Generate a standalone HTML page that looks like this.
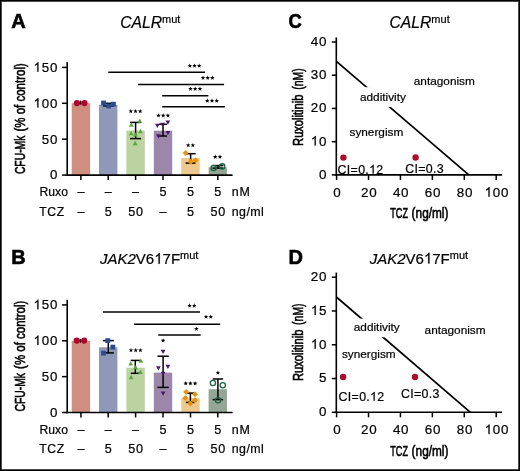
<!DOCTYPE html>
<html><head><meta charset="utf-8"><style>
html,body{margin:0;padding:0;background:#fff;}
svg{display:block;will-change:transform;}
text{font-family:"Liberation Sans", sans-serif;fill:#000;stroke:#000;stroke-width:0.2px;}
</style></head><body>
<svg width="520" height="471" viewBox="0 0 520 471">
<rect x="0.85" y="0.85" width="518.3" height="469.3" fill="#fff" stroke="#000" stroke-width="1.7"/>
<text x="11.3" y="28.0" font-size="20" text-anchor="start" font-weight="bold" font-style="normal" style="stroke-width:0.6px">A</text>
<text x="120.19" y="27.6" font-size="15.7" font-style="italic">C</text><text x="131.53" y="27.6" font-size="15.7" font-style="italic">A</text><text x="142.00" y="27.6" font-size="15.7" font-style="italic">L</text><text x="150.73" y="27.6" font-size="15.7" font-style="italic">R</text><text x="162.07" y="22.6" font-size="11">mut</text>
<text transform="translate(24.7,174.10) rotate(-90) scale(0.7187,1)" font-size="14.4" style="stroke-width:0.6px">CFU-Mk</text>
<text transform="translate(24.7,131.50) rotate(-90) scale(0.798,1)" font-size="14.4" style="stroke-width:0.6px">(% of control)</text>
<rect x="71.70" y="103.20" width="18.4" height="71.90" fill="#CE8E80"/>
<rect x="99.00" y="104.80" width="18.4" height="70.30" fill="#8F98B9"/>
<rect x="126.40" y="130.50" width="18.4" height="44.60" fill="#BBD39F"/>
<rect x="153.80" y="130.70" width="18.4" height="44.40" fill="#9C87AA"/>
<rect x="181.30" y="158.00" width="18.4" height="17.10" fill="#EEC88E"/>
<rect x="208.60" y="167.30" width="18.4" height="7.80" fill="#94A797"/>
<line x1="80.7" y1="100.8" x2="80.7" y2="104.6" stroke="#000" stroke-width="1.5"/><line x1="80.65" y1="100.8" x2="80.75" y2="100.8" stroke="#000" stroke-width="1.5"/><line x1="80.65" y1="104.6" x2="80.75" y2="104.6" stroke="#000" stroke-width="1.5"/>
<line x1="108.5" y1="103.3" x2="108.5" y2="105.9" stroke="#000" stroke-width="1.5"/><line x1="103.0" y1="103.3" x2="114.0" y2="103.3" stroke="#000" stroke-width="1.5"/><line x1="103.0" y1="105.9" x2="114.0" y2="105.9" stroke="#000" stroke-width="1.5"/>
<line x1="135.6" y1="122.4" x2="135.6" y2="138.6" stroke="#000" stroke-width="1.5"/><line x1="130.1" y1="122.4" x2="141.1" y2="122.4" stroke="#000" stroke-width="1.5"/><line x1="130.1" y1="138.6" x2="141.1" y2="138.6" stroke="#000" stroke-width="1.5"/>
<line x1="163.0" y1="124.3" x2="163.0" y2="136.0" stroke="#000" stroke-width="1.5"/><line x1="159.0" y1="124.3" x2="167.0" y2="124.3" stroke="#000" stroke-width="1.5"/><line x1="159.0" y1="136.0" x2="167.0" y2="136.0" stroke="#000" stroke-width="1.5"/>
<line x1="190.6" y1="153.7" x2="190.6" y2="163.1" stroke="#000" stroke-width="1.5"/><line x1="185.6" y1="153.7" x2="195.6" y2="153.7" stroke="#000" stroke-width="1.5"/><line x1="185.6" y1="163.1" x2="195.6" y2="163.1" stroke="#000" stroke-width="1.5"/>
<line x1="217.9" y1="165.6" x2="217.9" y2="168.1" stroke="#000" stroke-width="1.5"/><line x1="212.4" y1="165.6" x2="223.4" y2="165.6" stroke="#000" stroke-width="1.5"/><line x1="212.4" y1="168.1" x2="223.4" y2="168.1" stroke="#000" stroke-width="1.5"/>
<circle cx="77.0" cy="103.1" r="3.1" fill="#B3002D"/>
<circle cx="84.5" cy="103.1" r="3.1" fill="#B3002D"/>
<rect x="101.10" y="100.60" width="4.8" height="4.8" fill="#2B4C8C"/>
<rect x="106.20" y="103.60" width="4.8" height="4.8" fill="#2B4C8C"/>
<rect x="111.10" y="101.80" width="4.8" height="4.8" fill="#2B4C8C"/>
<polygon points="137.40,122.76 142.20,122.76 139.80,118.44" fill="#5CA642"/>
<polygon points="128.90,126.66 133.70,126.66 131.30,122.34" fill="#5CA642"/>
<polygon points="138.00,133.16 142.80,133.16 140.40,128.84" fill="#5CA642"/>
<polygon points="128.80,135.26 133.60,135.26 131.20,130.94" fill="#5CA642"/>
<polygon points="133.00,136.46 137.80,136.46 135.40,132.14" fill="#5CA642"/>
<polygon points="132.80,145.16 137.60,145.16 135.20,140.84" fill="#5CA642"/>
<polygon points="155.00,123.74 159.80,123.74 157.40,128.06" fill="#4A1A6A"/>
<polygon points="160.20,122.64 165.00,122.64 162.60,126.96" fill="#4A1A6A"/>
<polygon points="165.50,120.44 170.30,120.44 167.90,124.76" fill="#4A1A6A"/>
<polygon points="165.50,130.94 170.30,130.94 167.90,135.26" fill="#4A1A6A"/>
<polygon points="156.00,134.24 160.80,134.24 158.40,138.56" fill="#4A1A6A"/>
<polygon points="185.60,149.90 188.60,152.90 185.60,155.90 182.60,152.90" fill="#E8920E"/>
<polygon points="190.70,158.70 193.70,161.70 190.70,164.70 187.70,161.70" fill="#E8920E"/>
<polygon points="195.60,157.30 198.60,160.30 195.60,163.30 192.60,160.30" fill="#E8920E"/>
<circle cx="213.6" cy="168" r="2.65" fill="none" stroke="#1C6342" stroke-width="1.3"/>
<circle cx="222.2" cy="166.4" r="2.65" fill="none" stroke="#1C6342" stroke-width="1.3"/>
<line x1="67.2" y1="62.300000000000004" x2="67.2" y2="175.9" stroke="#000" stroke-width="1.6"/>
<line x1="66.4" y1="175.1" x2="232.6" y2="175.1" stroke="#000" stroke-width="1.6"/>
<line x1="62" y1="175.1" x2="67.2" y2="175.1" stroke="#000" stroke-width="1.5"/>
<text x="49.90" y="179.4" font-size="13.3">0</text>
<line x1="62" y1="139.2" x2="67.2" y2="139.2" stroke="#000" stroke-width="1.5"/>
<text x="41.71" y="143.5" font-size="13.3">5</text><text x="49.90" y="143.5" font-size="13.3">0</text>
<line x1="62" y1="103.3" x2="67.2" y2="103.3" stroke="#000" stroke-width="1.5"/>
<path d="M763 0H583V1147Q518 1085 412.5 1023T223 930V1104Q373 1175 485.5 1276T645 1472H763Z" transform="translate(33.51,107.6) scale(0.00649,-0.00649)" fill="#000" stroke="#000" stroke-width="30.8"/><text x="41.71" y="107.6" font-size="13.3">0</text><text x="49.90" y="107.6" font-size="13.3">0</text>
<line x1="62" y1="67.4" x2="67.2" y2="67.4" stroke="#000" stroke-width="1.5"/>
<path d="M763 0H583V1147Q518 1085 412.5 1023T223 930V1104Q373 1175 485.5 1276T645 1472H763Z" transform="translate(33.51,71.7) scale(0.00649,-0.00649)" fill="#000" stroke="#000" stroke-width="30.8"/><text x="41.71" y="71.7" font-size="13.3">5</text><text x="49.90" y="71.7" font-size="13.3">0</text>
<line x1="80.9" y1="175.1" x2="80.9" y2="180.1" stroke="#000" stroke-width="1.5"/>
<line x1="108.2" y1="175.1" x2="108.2" y2="180.1" stroke="#000" stroke-width="1.5"/>
<line x1="135.6" y1="175.1" x2="135.6" y2="180.1" stroke="#000" stroke-width="1.5"/>
<line x1="163.0" y1="175.1" x2="163.0" y2="180.1" stroke="#000" stroke-width="1.5"/>
<line x1="190.5" y1="175.1" x2="190.5" y2="180.1" stroke="#000" stroke-width="1.5"/>
<line x1="217.8" y1="175.1" x2="217.8" y2="180.1" stroke="#000" stroke-width="1.5"/>
<line x1="108.3" y1="72.3" x2="205" y2="72.3" stroke="#000" stroke-width="1.5"/>
<line x1="138.1" y1="84.6" x2="224.1" y2="84.6" stroke="#000" stroke-width="1.5"/>
<line x1="162.2" y1="95.7" x2="208.4" y2="95.7" stroke="#000" stroke-width="1.5"/>
<line x1="162.2" y1="106.7" x2="224.9" y2="106.7" stroke="#000" stroke-width="1.5"/>
<polygon points="189.80,63.40 190.39,64.99 192.08,65.06 190.75,66.11 191.21,67.74 189.80,66.80 188.39,67.74 188.85,66.11 187.52,65.06 189.21,64.99" fill="#000"/><polygon points="194.50,63.40 195.09,64.99 196.78,65.06 195.45,66.11 195.91,67.74 194.50,66.80 193.09,67.74 193.55,66.11 192.22,65.06 193.91,64.99" fill="#000"/><polygon points="199.20,63.40 199.79,64.99 201.48,65.06 200.15,66.11 200.61,67.74 199.20,66.80 197.79,67.74 198.25,66.11 196.92,65.06 198.61,64.99" fill="#000"/>
<polygon points="203.00,75.50 203.59,77.09 205.28,77.16 203.95,78.21 204.41,79.84 203.00,78.90 201.59,79.84 202.05,78.21 200.72,77.16 202.41,77.09" fill="#000"/><polygon points="207.70,75.50 208.29,77.09 209.98,77.16 208.65,78.21 209.11,79.84 207.70,78.90 206.29,79.84 206.75,78.21 205.42,77.16 207.11,77.09" fill="#000"/><polygon points="212.40,75.50 212.99,77.09 214.68,77.16 213.35,78.21 213.81,79.84 212.40,78.90 210.99,79.84 211.45,78.21 210.12,77.16 211.81,77.09" fill="#000"/>
<polygon points="190.50,86.50 191.09,88.09 192.78,88.16 191.45,89.21 191.91,90.84 190.50,89.90 189.09,90.84 189.55,89.21 188.22,88.16 189.91,88.09" fill="#000"/><polygon points="195.20,86.50 195.79,88.09 197.48,88.16 196.15,89.21 196.61,90.84 195.20,89.90 193.79,90.84 194.25,89.21 192.92,88.16 194.61,88.09" fill="#000"/><polygon points="199.90,86.50 200.49,88.09 202.18,88.16 200.85,89.21 201.31,90.84 199.90,89.90 198.49,90.84 198.95,89.21 197.62,88.16 199.31,88.09" fill="#000"/>
<polygon points="207.30,98.30 207.89,99.89 209.58,99.96 208.25,101.01 208.71,102.64 207.30,101.70 205.89,102.64 206.35,101.01 205.02,99.96 206.71,99.89" fill="#000"/><polygon points="212.00,98.30 212.59,99.89 214.28,99.96 212.95,101.01 213.41,102.64 212.00,101.70 210.59,102.64 211.05,101.01 209.72,99.96 211.41,99.89" fill="#000"/><polygon points="216.70,98.30 217.29,99.89 218.98,99.96 217.65,101.01 218.11,102.64 216.70,101.70 215.29,102.64 215.75,101.01 214.42,99.96 216.11,99.89" fill="#000"/>
<polygon points="130.80,108.90 131.39,110.49 133.08,110.56 131.75,111.61 132.21,113.24 130.80,112.30 129.39,113.24 129.85,111.61 128.52,110.56 130.21,110.49" fill="#000"/><polygon points="135.50,108.90 136.09,110.49 137.78,110.56 136.45,111.61 136.91,113.24 135.50,112.30 134.09,113.24 134.55,111.61 133.22,110.56 134.91,110.49" fill="#000"/><polygon points="140.20,108.90 140.79,110.49 142.48,110.56 141.15,111.61 141.61,113.24 140.20,112.30 138.79,113.24 139.25,111.61 137.92,110.56 139.61,110.49" fill="#000"/>
<polygon points="158.50,113.20 159.09,114.79 160.78,114.86 159.45,115.91 159.91,117.54 158.50,116.60 157.09,117.54 157.55,115.91 156.22,114.86 157.91,114.79" fill="#000"/><polygon points="163.20,113.20 163.79,114.79 165.48,114.86 164.15,115.91 164.61,117.54 163.20,116.60 161.79,117.54 162.25,115.91 160.92,114.86 162.61,114.79" fill="#000"/><polygon points="167.90,113.20 168.49,114.79 170.18,114.86 168.85,115.91 169.31,117.54 167.90,116.60 166.49,117.54 166.95,115.91 165.62,114.86 167.31,114.79" fill="#000"/>
<polygon points="188.15,142.90 188.74,144.49 190.43,144.56 189.10,145.61 189.56,147.24 188.15,146.30 186.74,147.24 187.20,145.61 185.87,144.56 187.56,144.49" fill="#000"/><polygon points="192.85,142.90 193.44,144.49 195.13,144.56 193.80,145.61 194.26,147.24 192.85,146.30 191.44,147.24 191.90,145.61 190.57,144.56 192.26,144.49" fill="#000"/>
<polygon points="215.25,154.50 215.84,156.09 217.53,156.16 216.20,157.21 216.66,158.84 215.25,157.90 213.84,158.84 214.30,157.21 212.97,156.16 214.66,156.09" fill="#000"/><polygon points="219.95,154.50 220.54,156.09 222.23,156.16 220.90,157.21 221.36,158.84 219.95,157.90 218.54,158.84 219.00,157.21 217.67,156.16 219.36,156.09" fill="#000"/>
<text x="39.5" y="196.4" font-size="12.2" text-anchor="start" font-weight="normal" font-style="normal" >Ruxo</text>
<text x="39.3" y="215.8" font-size="12.2" text-anchor="start" font-weight="normal" font-style="normal" letter-spacing="0.6">TCZ</text>
<text x="77.40" y="196.4" font-size="12.6">–</text>
<text x="77.40" y="215.8" font-size="12.6">–</text>
<text x="104.70" y="196.4" font-size="12.6">–</text>
<text x="104.70" y="215.8" font-size="12.6">5</text>
<text x="132.10" y="196.4" font-size="12.6">–</text>
<text x="128.24" y="215.8" font-size="12.6">5</text><text x="135.95" y="215.8" font-size="12.6">0</text>
<text x="159.50" y="196.4" font-size="12.6">5</text>
<text x="159.50" y="215.8" font-size="12.6">–</text>
<text x="187.00" y="196.4" font-size="12.6">5</text>
<text x="187.00" y="215.8" font-size="12.6">5</text>
<text x="214.30" y="196.4" font-size="12.6">5</text>
<text x="210.44" y="215.8" font-size="12.6">5</text><text x="218.15" y="215.8" font-size="12.6">0</text>
<text x="231.8" y="196.4" font-size="12.4" text-anchor="start" font-weight="normal" font-style="normal" letter-spacing="0.9">nM</text>
<text x="231.8" y="215.8" font-size="12.4" text-anchor="start" font-weight="normal" font-style="normal" letter-spacing="0.4">ng/ml</text>
<text x="11.3" y="264.40292" font-size="20" text-anchor="start" font-weight="bold" font-style="normal" style="stroke-width:0.6px">B</text>
<text x="100.01" y="263.8" font-size="15" font-style="italic">J</text><text x="107.51" y="263.8" font-size="15" font-style="italic">A</text><text x="117.51" y="263.8" font-size="15" font-style="italic">K</text><text x="127.52" y="263.8" font-size="15" font-style="italic">2</text><text x="135.86" y="263.8" font-size="15">V</text><text x="145.87" y="263.8" font-size="15">6</text><path d="M763 0H583V1147Q518 1085 412.5 1023T223 930V1104Q373 1175 485.5 1276T645 1472H763Z" transform="translate(154.21,263.8) scale(0.00732,-0.00732)" fill="#000" stroke="#000" stroke-width="27.3"/><text x="162.55" y="263.8" font-size="15">7</text><text x="170.89" y="263.8" font-size="15">F</text><text x="180.05" y="258.8" font-size="11">mut</text>
<text transform="translate(24.7,411.50) rotate(-90) scale(0.7187,1)" font-size="14.4" style="stroke-width:0.6px">CFU-Mk</text>
<text transform="translate(24.7,368.90) rotate(-90) scale(0.798,1)" font-size="14.4" style="stroke-width:0.6px">(% of control)</text>
<rect x="71.70" y="340.90" width="18.4" height="71.60" fill="#CE8E80"/>
<rect x="99.00" y="347.30" width="18.4" height="65.20" fill="#8F98B9"/>
<rect x="126.40" y="367.70" width="18.4" height="44.80" fill="#BBD39F"/>
<rect x="153.80" y="372.60" width="18.4" height="39.90" fill="#9C87AA"/>
<rect x="181.30" y="397.90" width="18.4" height="14.60" fill="#EEC88E"/>
<rect x="208.60" y="389.20" width="18.4" height="23.30" fill="#94A797"/>
<line x1="80.5" y1="338.9" x2="80.5" y2="342.5" stroke="#000" stroke-width="1.5"/><line x1="80.45" y1="338.9" x2="80.55" y2="338.9" stroke="#000" stroke-width="1.5"/><line x1="80.45" y1="342.5" x2="80.55" y2="342.5" stroke="#000" stroke-width="1.5"/>
<line x1="108.3" y1="340.6" x2="108.3" y2="352.9" stroke="#000" stroke-width="1.5"/><line x1="102.8" y1="340.6" x2="113.8" y2="340.6" stroke="#000" stroke-width="1.5"/><line x1="102.8" y1="352.9" x2="113.8" y2="352.9" stroke="#000" stroke-width="1.5"/>
<line x1="135.3" y1="360.4" x2="135.3" y2="373.3" stroke="#000" stroke-width="1.5"/><line x1="130.70000000000002" y1="360.4" x2="139.9" y2="360.4" stroke="#000" stroke-width="1.5"/><line x1="130.70000000000002" y1="373.3" x2="139.9" y2="373.3" stroke="#000" stroke-width="1.5"/>
<line x1="163.1" y1="356.2" x2="163.1" y2="387.4" stroke="#000" stroke-width="1.5"/><line x1="157.45" y1="356.2" x2="168.75" y2="356.2" stroke="#000" stroke-width="1.5"/><line x1="157.45" y1="387.4" x2="168.75" y2="387.4" stroke="#000" stroke-width="1.5"/>
<line x1="190.4" y1="393.1" x2="190.4" y2="402.4" stroke="#000" stroke-width="1.5"/><line x1="185.9" y1="393.1" x2="194.9" y2="393.1" stroke="#000" stroke-width="1.5"/><line x1="185.9" y1="402.4" x2="194.9" y2="402.4" stroke="#000" stroke-width="1.5"/>
<line x1="217.9" y1="379" x2="217.9" y2="399.6" stroke="#000" stroke-width="1.5"/><line x1="212.65" y1="379" x2="223.15" y2="379" stroke="#000" stroke-width="1.5"/><line x1="212.65" y1="399.6" x2="223.15" y2="399.6" stroke="#000" stroke-width="1.5"/>
<circle cx="76.8" cy="340.6" r="3.1" fill="#B3002D"/>
<circle cx="84.2" cy="340.6" r="3.1" fill="#B3002D"/>
<rect x="105.40" y="338.20" width="4.8" height="4.8" fill="#2B4C8C"/>
<rect x="110.40" y="344.70" width="4.8" height="4.8" fill="#2B4C8C"/>
<rect x="101.10" y="350.70" width="4.8" height="4.8" fill="#2B4C8C"/>
<polygon points="138.40,362.86 143.20,362.86 140.80,358.54" fill="#5CA642"/>
<polygon points="128.30,365.56 133.10,365.56 130.70,361.24" fill="#5CA642"/>
<polygon points="133.20,369.26 138.00,369.26 135.60,364.94" fill="#5CA642"/>
<polygon points="138.10,373.96 142.90,373.96 140.50,369.64" fill="#5CA642"/>
<polygon points="128.70,379.16 133.50,379.16 131.10,374.84" fill="#5CA642"/>
<polygon points="160.70,349.64 165.50,349.64 163.10,353.96" fill="#4A1A6A"/>
<polygon points="156.00,366.24 160.80,366.24 158.40,370.56" fill="#4A1A6A"/>
<polygon points="165.50,364.74 170.30,364.74 167.90,369.06" fill="#4A1A6A"/>
<polygon points="160.70,371.64 165.50,371.64 163.10,375.96" fill="#4A1A6A"/>
<polygon points="160.70,391.54 165.50,391.54 163.10,395.86" fill="#4A1A6A"/>
<polygon points="186.10,389.10 189.10,392.10 186.10,395.10 183.10,392.10" fill="#E8920E"/>
<polygon points="195.00,391.30 198.00,394.30 195.00,397.30 192.00,394.30" fill="#E8920E"/>
<polygon points="185.40,395.10 188.40,398.10 185.40,401.10 182.40,398.10" fill="#E8920E"/>
<polygon points="195.00,397.30 198.00,400.30 195.00,403.30 192.00,400.30" fill="#E8920E"/>
<polygon points="190.40,400.40 193.40,403.40 190.40,406.40 187.40,403.40" fill="#E8920E"/>
<circle cx="212.9" cy="383" r="2.65" fill="none" stroke="#1C6342" stroke-width="1.3"/>
<circle cx="222.8" cy="385.2" r="2.65" fill="none" stroke="#1C6342" stroke-width="1.3"/>
<circle cx="218" cy="400.3" r="2.65" fill="none" stroke="#1C6342" stroke-width="1.3"/>
<line x1="67.2" y1="299.80499999999995" x2="67.2" y2="413.3" stroke="#000" stroke-width="1.6"/>
<line x1="66.4" y1="412.5" x2="232.6" y2="412.5" stroke="#000" stroke-width="1.6"/>
<line x1="62" y1="412.5" x2="67.2" y2="412.5" stroke="#000" stroke-width="1.5"/>
<text x="49.90" y="416.8" font-size="13.3">0</text>
<line x1="62" y1="376.635" x2="67.2" y2="376.635" stroke="#000" stroke-width="1.5"/>
<text x="41.71" y="380.94" font-size="13.3">5</text><text x="49.90" y="380.94" font-size="13.3">0</text>
<line x1="62" y1="340.77" x2="67.2" y2="340.77" stroke="#000" stroke-width="1.5"/>
<path d="M763 0H583V1147Q518 1085 412.5 1023T223 930V1104Q373 1175 485.5 1276T645 1472H763Z" transform="translate(33.51,345.07) scale(0.00649,-0.00649)" fill="#000" stroke="#000" stroke-width="30.8"/><text x="41.71" y="345.07" font-size="13.3">0</text><text x="49.90" y="345.07" font-size="13.3">0</text>
<line x1="62" y1="304.905" x2="67.2" y2="304.905" stroke="#000" stroke-width="1.5"/>
<path d="M763 0H583V1147Q518 1085 412.5 1023T223 930V1104Q373 1175 485.5 1276T645 1472H763Z" transform="translate(33.51,309.2) scale(0.00649,-0.00649)" fill="#000" stroke="#000" stroke-width="30.8"/><text x="41.71" y="309.2" font-size="13.3">5</text><text x="49.90" y="309.2" font-size="13.3">0</text>
<line x1="80.9" y1="412.5" x2="80.9" y2="417.5" stroke="#000" stroke-width="1.5"/>
<line x1="108.2" y1="412.5" x2="108.2" y2="417.5" stroke="#000" stroke-width="1.5"/>
<line x1="135.6" y1="412.5" x2="135.6" y2="417.5" stroke="#000" stroke-width="1.5"/>
<line x1="163.0" y1="412.5" x2="163.0" y2="417.5" stroke="#000" stroke-width="1.5"/>
<line x1="190.5" y1="412.5" x2="190.5" y2="417.5" stroke="#000" stroke-width="1.5"/>
<line x1="217.8" y1="412.5" x2="217.8" y2="417.5" stroke="#000" stroke-width="1.5"/>
<line x1="103" y1="312.1" x2="200" y2="312.1" stroke="#000" stroke-width="1.5"/>
<line x1="134.1" y1="324.3" x2="220.2" y2="324.3" stroke="#000" stroke-width="1.5"/>
<line x1="158.3" y1="335" x2="200.7" y2="335" stroke="#000" stroke-width="1.5"/>
<polygon points="189.55,303.30 190.14,304.89 191.83,304.96 190.50,306.01 190.96,307.64 189.55,306.70 188.14,307.64 188.60,306.01 187.27,304.96 188.96,304.89" fill="#000"/><polygon points="194.25,303.30 194.84,304.89 196.53,304.96 195.20,306.01 195.66,307.64 194.25,306.70 192.84,307.64 193.30,306.01 191.97,304.96 193.66,304.89" fill="#000"/>
<polygon points="206.05,314.40 206.64,315.99 208.33,316.06 207.00,317.11 207.46,318.74 206.05,317.80 204.64,318.74 205.10,317.11 203.77,316.06 205.46,315.99" fill="#000"/><polygon points="210.75,314.40 211.34,315.99 213.03,316.06 211.70,317.11 212.16,318.74 210.75,317.80 209.34,318.74 209.80,317.11 208.47,316.06 210.16,315.99" fill="#000"/>
<polygon points="196.40,326.50 196.99,328.09 198.68,328.16 197.35,329.21 197.81,330.84 196.40,329.90 194.99,330.84 195.45,329.21 194.12,328.16 195.81,328.09" fill="#000"/>
<polygon points="131.00,347.90 131.59,349.49 133.28,349.56 131.95,350.61 132.41,352.24 131.00,351.30 129.59,352.24 130.05,350.61 128.72,349.56 130.41,349.49" fill="#000"/><polygon points="135.70,347.90 136.29,349.49 137.98,349.56 136.65,350.61 137.11,352.24 135.70,351.30 134.29,352.24 134.75,350.61 133.42,349.56 135.11,349.49" fill="#000"/><polygon points="140.40,347.90 140.99,349.49 142.68,349.56 141.35,350.61 141.81,352.24 140.40,351.30 138.99,352.24 139.45,350.61 138.12,349.56 139.81,349.49" fill="#000"/>
<polygon points="163.10,338.20 163.69,339.79 165.38,339.86 164.05,340.91 164.51,342.54 163.10,341.60 161.69,342.54 162.15,340.91 160.82,339.86 162.51,339.79" fill="#000"/>
<polygon points="185.70,381.00 186.29,382.59 187.98,382.66 186.65,383.71 187.11,385.34 185.70,384.40 184.29,385.34 184.75,383.71 183.42,382.66 185.11,382.59" fill="#000"/><polygon points="190.40,381.00 190.99,382.59 192.68,382.66 191.35,383.71 191.81,385.34 190.40,384.40 188.99,385.34 189.45,383.71 188.12,382.66 189.81,382.59" fill="#000"/><polygon points="195.10,381.00 195.69,382.59 197.38,382.66 196.05,383.71 196.51,385.34 195.10,384.40 193.69,385.34 194.15,383.71 192.82,382.66 194.51,382.59" fill="#000"/>
<polygon points="217.90,370.40 218.49,371.99 220.18,372.06 218.85,373.11 219.31,374.74 217.90,373.80 216.49,374.74 216.95,373.11 215.62,372.06 217.31,371.99" fill="#000"/>
<text x="39.5" y="433.8" font-size="12.2" text-anchor="start" font-weight="normal" font-style="normal" >Ruxo</text>
<text x="39.3" y="453.20000000000005" font-size="12.2" text-anchor="start" font-weight="normal" font-style="normal" letter-spacing="0.6">TCZ</text>
<text x="77.40" y="433.8" font-size="12.6">–</text>
<text x="77.40" y="453.20000000000005" font-size="12.6">–</text>
<text x="104.70" y="433.8" font-size="12.6">–</text>
<text x="104.70" y="453.20000000000005" font-size="12.6">5</text>
<text x="132.10" y="433.8" font-size="12.6">–</text>
<text x="128.24" y="453.20000000000005" font-size="12.6">5</text><text x="135.95" y="453.20000000000005" font-size="12.6">0</text>
<text x="159.50" y="433.8" font-size="12.6">5</text>
<text x="159.50" y="453.20000000000005" font-size="12.6">–</text>
<text x="187.00" y="433.8" font-size="12.6">5</text>
<text x="187.00" y="453.20000000000005" font-size="12.6">5</text>
<text x="214.30" y="433.8" font-size="12.6">5</text>
<text x="210.44" y="453.20000000000005" font-size="12.6">5</text><text x="218.15" y="453.20000000000005" font-size="12.6">0</text>
<text x="231.8" y="433.8" font-size="12.4" text-anchor="start" font-weight="normal" font-style="normal" letter-spacing="0.9">nM</text>
<text x="231.8" y="453.20000000000005" font-size="12.4" text-anchor="start" font-weight="normal" font-style="normal" letter-spacing="0.4">ng/ml</text>
<text transform="translate(288.5,28.3) scale(0.92,1)" font-size="20" text-anchor="start" font-weight="bold" font-style="normal" style="stroke-width:0.6px">C</text>
<text x="389.49" y="27.5" font-size="15.7" font-style="italic">C</text><text x="400.83" y="27.5" font-size="15.7" font-style="italic">A</text><text x="411.30" y="27.5" font-size="15.7" font-style="italic">L</text><text x="420.03" y="27.5" font-size="15.7" font-style="italic">R</text><text x="431.37" y="22.5" font-size="11">mut</text>
<text transform="translate(302.9,145.90) rotate(-90) scale(0.772,1)" font-size="14.4" style="stroke-width:0.6px">Ruxolitinib</text>
<text transform="translate(302.9,89.85) rotate(-90) scale(0.726,1)" font-size="14.4" style="stroke-width:0.6px">(nM)</text>
<line x1="336.3" y1="37.4" x2="336.3" y2="175.70000000000002" stroke="#000" stroke-width="1.6"/>
<line x1="335.5" y1="174.9" x2="502" y2="174.9" stroke="#000" stroke-width="1.6"/>
<line x1="331.8" y1="174.9" x2="336.3" y2="174.9" stroke="#000" stroke-width="1.5"/>
<text x="318.95" y="178.8" font-size="13.4">0</text>
<line x1="331.8" y1="141.675" x2="336.3" y2="141.675" stroke="#000" stroke-width="1.5"/>
<path d="M763 0H583V1147Q518 1085 412.5 1023T223 930V1104Q373 1175 485.5 1276T645 1472H763Z" transform="translate(310.80,145.58) scale(0.00654,-0.00654)" fill="#000" stroke="#000" stroke-width="30.6"/><text x="318.95" y="145.58" font-size="13.4">0</text>
<line x1="331.8" y1="108.45" x2="336.3" y2="108.45" stroke="#000" stroke-width="1.5"/>
<text x="310.80" y="112.35" font-size="13.4">2</text><text x="318.95" y="112.35" font-size="13.4">0</text>
<line x1="331.8" y1="75.225" x2="336.3" y2="75.225" stroke="#000" stroke-width="1.5"/>
<text x="310.80" y="79.12" font-size="13.4">3</text><text x="318.95" y="79.12" font-size="13.4">0</text>
<line x1="331.8" y1="42.0" x2="336.3" y2="42.0" stroke="#000" stroke-width="1.5"/>
<text x="310.80" y="45.9" font-size="13.4">4</text><text x="318.95" y="45.9" font-size="13.4">0</text>
<line x1="336.6" y1="174.9" x2="336.6" y2="179.9" stroke="#000" stroke-width="1.5"/>
<text x="333.17" y="196.7" font-size="13.4">0</text>
<line x1="368.52000000000004" y1="174.9" x2="368.52000000000004" y2="179.9" stroke="#000" stroke-width="1.5"/>
<text x="361.02" y="196.7" font-size="13.4">2</text><text x="369.17" y="196.7" font-size="13.4">0</text>
<line x1="400.44000000000005" y1="174.9" x2="400.44000000000005" y2="179.9" stroke="#000" stroke-width="1.5"/>
<text x="392.94" y="196.7" font-size="13.4">4</text><text x="401.09" y="196.7" font-size="13.4">0</text>
<line x1="432.36" y1="174.9" x2="432.36" y2="179.9" stroke="#000" stroke-width="1.5"/>
<text x="424.86" y="196.7" font-size="13.4">6</text><text x="433.01" y="196.7" font-size="13.4">0</text>
<line x1="464.28000000000003" y1="174.9" x2="464.28000000000003" y2="179.9" stroke="#000" stroke-width="1.5"/>
<text x="456.78" y="196.7" font-size="13.4">8</text><text x="464.93" y="196.7" font-size="13.4">0</text>
<line x1="496.20000000000005" y1="174.9" x2="496.20000000000005" y2="179.9" stroke="#000" stroke-width="1.5"/>
<path d="M763 0H583V1147Q518 1085 412.5 1023T223 930V1104Q373 1175 485.5 1276T645 1472H763Z" transform="translate(484.62,196.7) scale(0.00654,-0.00654)" fill="#000" stroke="#000" stroke-width="30.6"/><text x="492.77" y="196.7" font-size="13.4">0</text><text x="500.93" y="196.7" font-size="13.4">0</text>
<text transform="translate(390.3,218.10) scale(0.632,1)" font-size="14.4" style="stroke-width:0.6px">TCZ</text>
<text transform="translate(411.6,218.10) scale(0.823,1)" font-size="14.4" style="stroke-width:0.6px">(ng/ml)</text>
<line x1="336.4" y1="61.3" x2="468.8" y2="174.9" stroke="#000" stroke-width="1.7"/>
<rect x="357" y="87.2" width="52" height="19.8" fill="#fff"/>
<text x="360" y="101.2" font-size="11.8" text-anchor="start" font-weight="normal" font-style="normal" >additivity</text>
<text x="413.8" y="84.9" font-size="11.8" text-anchor="start" font-weight="normal" font-style="normal" >antagonism</text>
<text x="349.5" y="136.0" font-size="11.8" text-anchor="start" font-weight="normal" font-style="normal" >synergism</text>
<circle cx="343.4" cy="157.6" r="3.2" fill="#A90F2D"/>
<circle cx="415.6" cy="157.5" r="3.2" fill="#A90F2D"/>
<text x="337.60" y="173.6" font-size="12.4">C</text><text x="346.85" y="173.6" font-size="12.4">I</text><text x="350.60" y="173.6" font-size="12.4">=</text><text x="358.14" y="173.6" font-size="12.4">0</text><text x="365.34" y="173.6" font-size="12.4">.</text><path d="M763 0H583V1147Q518 1085 412.5 1023T223 930V1104Q373 1175 485.5 1276T645 1472H763Z" transform="translate(369.08,173.6) scale(0.00605,-0.00605)" fill="#000" stroke="#000" stroke-width="33.0"/><text x="376.28" y="173.6" font-size="12.4">2</text>
<text x="405.30" y="172.8" font-size="12.4">C</text><text x="414.55" y="172.8" font-size="12.4">I</text><text x="418.30" y="172.8" font-size="12.4">=</text><text x="425.84" y="172.8" font-size="12.4">0</text><text x="433.04" y="172.8" font-size="12.4">.</text><text x="436.78" y="172.8" font-size="12.4">3</text>
<text x="288.5" y="263.71" font-size="20" text-anchor="start" font-weight="bold" font-style="normal" style="stroke-width:0.6px">D</text>
<text x="369.71" y="263.5" font-size="15" font-style="italic">J</text><text x="377.21" y="263.5" font-size="15" font-style="italic">A</text><text x="387.21" y="263.5" font-size="15" font-style="italic">K</text><text x="397.22" y="263.5" font-size="15" font-style="italic">2</text><text x="405.56" y="263.5" font-size="15">V</text><text x="415.57" y="263.5" font-size="15">6</text><path d="M763 0H583V1147Q518 1085 412.5 1023T223 930V1104Q373 1175 485.5 1276T645 1472H763Z" transform="translate(423.91,263.5) scale(0.00732,-0.00732)" fill="#000" stroke="#000" stroke-width="27.3"/><text x="432.25" y="263.5" font-size="15">7</text><text x="440.59" y="263.5" font-size="15">F</text><text x="449.75" y="258.5" font-size="11">mut</text>
<text transform="translate(302.9,380.93) rotate(-90) scale(0.772,1)" font-size="14.4" style="stroke-width:0.6px">Ruxolitinib</text>
<text transform="translate(302.9,324.88) rotate(-90) scale(0.726,1)" font-size="14.4" style="stroke-width:0.6px">(nM)</text>
<line x1="336.3" y1="272.59999999999997" x2="336.3" y2="413.1" stroke="#000" stroke-width="1.6"/>
<line x1="335.5" y1="412.3" x2="502" y2="412.3" stroke="#000" stroke-width="1.6"/>
<line x1="331.8" y1="412.3" x2="336.3" y2="412.3" stroke="#000" stroke-width="1.5"/>
<text x="318.95" y="416.2" font-size="13.4">0</text>
<line x1="331.8" y1="378.525" x2="336.3" y2="378.525" stroke="#000" stroke-width="1.5"/>
<text x="318.95" y="382.42" font-size="13.4">5</text>
<line x1="331.8" y1="344.75" x2="336.3" y2="344.75" stroke="#000" stroke-width="1.5"/>
<path d="M763 0H583V1147Q518 1085 412.5 1023T223 930V1104Q373 1175 485.5 1276T645 1472H763Z" transform="translate(310.80,348.65) scale(0.00654,-0.00654)" fill="#000" stroke="#000" stroke-width="30.6"/><text x="318.95" y="348.65" font-size="13.4">0</text>
<line x1="331.8" y1="310.975" x2="336.3" y2="310.975" stroke="#000" stroke-width="1.5"/>
<path d="M763 0H583V1147Q518 1085 412.5 1023T223 930V1104Q373 1175 485.5 1276T645 1472H763Z" transform="translate(310.80,314.88) scale(0.00654,-0.00654)" fill="#000" stroke="#000" stroke-width="30.6"/><text x="318.95" y="314.88" font-size="13.4">5</text>
<line x1="331.8" y1="277.2" x2="336.3" y2="277.2" stroke="#000" stroke-width="1.5"/>
<text x="310.80" y="281.1" font-size="13.4">2</text><text x="318.95" y="281.1" font-size="13.4">0</text>
<line x1="336.6" y1="412.3" x2="336.6" y2="417.3" stroke="#000" stroke-width="1.5"/>
<text x="333.17" y="434.1" font-size="13.4">0</text>
<line x1="368.52000000000004" y1="412.3" x2="368.52000000000004" y2="417.3" stroke="#000" stroke-width="1.5"/>
<text x="361.02" y="434.1" font-size="13.4">2</text><text x="369.17" y="434.1" font-size="13.4">0</text>
<line x1="400.44000000000005" y1="412.3" x2="400.44000000000005" y2="417.3" stroke="#000" stroke-width="1.5"/>
<text x="392.94" y="434.1" font-size="13.4">4</text><text x="401.09" y="434.1" font-size="13.4">0</text>
<line x1="432.36" y1="412.3" x2="432.36" y2="417.3" stroke="#000" stroke-width="1.5"/>
<text x="424.86" y="434.1" font-size="13.4">6</text><text x="433.01" y="434.1" font-size="13.4">0</text>
<line x1="464.28000000000003" y1="412.3" x2="464.28000000000003" y2="417.3" stroke="#000" stroke-width="1.5"/>
<text x="456.78" y="434.1" font-size="13.4">8</text><text x="464.93" y="434.1" font-size="13.4">0</text>
<line x1="496.20000000000005" y1="412.3" x2="496.20000000000005" y2="417.3" stroke="#000" stroke-width="1.5"/>
<path d="M763 0H583V1147Q518 1085 412.5 1023T223 930V1104Q373 1175 485.5 1276T645 1472H763Z" transform="translate(484.62,434.1) scale(0.00654,-0.00654)" fill="#000" stroke="#000" stroke-width="30.6"/><text x="492.77" y="434.1" font-size="13.4">0</text><text x="500.93" y="434.1" font-size="13.4">0</text>
<text transform="translate(390.3,455.50) scale(0.632,1)" font-size="14.4" style="stroke-width:0.6px">TCZ</text>
<text transform="translate(411.6,455.50) scale(0.823,1)" font-size="14.4" style="stroke-width:0.6px">(ng/ml)</text>
<line x1="336.4" y1="297.0" x2="470.4" y2="412.3" stroke="#000" stroke-width="1.7"/>
<rect x="351" y="318.6" width="50" height="18.6" fill="#fff"/>
<text x="353.8" y="331.1" font-size="11.8" text-anchor="start" font-weight="normal" font-style="normal" >additivity</text>
<text x="424.6" y="333.6" font-size="11.8" text-anchor="start" font-weight="normal" font-style="normal" >antagonism</text>
<text x="341.9" y="357.6" font-size="11.8" text-anchor="start" font-weight="normal" font-style="normal" >synergism</text>
<circle cx="343.1" cy="377" r="3.2" fill="#A90F2D"/>
<circle cx="415" cy="377" r="3.2" fill="#A90F2D"/>
<text x="338.60" y="400.8" font-size="12.4">C</text><text x="347.85" y="400.8" font-size="12.4">I</text><text x="351.60" y="400.8" font-size="12.4">=</text><text x="359.14" y="400.8" font-size="12.4">0</text><text x="366.34" y="400.8" font-size="12.4">.</text><path d="M763 0H583V1147Q518 1085 412.5 1023T223 930V1104Q373 1175 485.5 1276T645 1472H763Z" transform="translate(370.08,400.8) scale(0.00605,-0.00605)" fill="#000" stroke="#000" stroke-width="33.0"/><text x="377.28" y="400.8" font-size="12.4">2</text>
<text x="401.00" y="397.6" font-size="12.4">C</text><text x="410.25" y="397.6" font-size="12.4">I</text><text x="414.00" y="397.6" font-size="12.4">=</text><text x="421.54" y="397.6" font-size="12.4">0</text><text x="428.74" y="397.6" font-size="12.4">.</text><text x="432.48" y="397.6" font-size="12.4">3</text>
</svg>
</body></html>
